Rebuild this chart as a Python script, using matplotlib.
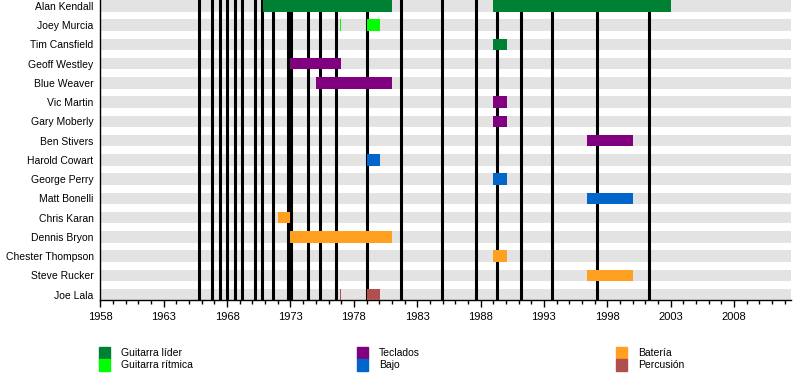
import matplotlib.pyplot as plt
from matplotlib.patches import Rectangle

plt.rcParams['font.family'] = ['Liberation Sans', 'DejaVu Sans']

# Members, top to bottom
members = ['Alan Kendall', 'Joey Murcia', 'Tim Cansfield', 'Geoff Westley',
           'Blue Weaver', 'Vic Martin', 'Gary Moberly', 'Ben Stivers',
           'Harold Cowart', 'George Perry', 'Matt Bonelli', 'Chris Karan',
           'Dennis Bryon', 'Chester Thompson', 'Steve Rucker', 'Joe Lala']

# Membership periods: member, start, end, role
bar_member = ['Alan Kendall', 'Alan Kendall', 'Joey Murcia', 'Joey Murcia',
              'Tim Cansfield', 'Geoff Westley', 'Blue Weaver', 'Vic Martin',
              'Gary Moberly', 'Ben Stivers', 'Harold Cowart', 'George Perry',
              'Matt Bonelli', 'Chris Karan', 'Dennis Bryon', 'Chester Thompson',
              'Steve Rucker', 'Joe Lala', 'Joe Lala']
bar_start = [1970.85, 1989.0, 1976.88, 1979.0,
             1989.0, 1973.0, 1975.0, 1989.0,
             1989.0, 1996.4, 1979.0, 1989.0,
             1996.4, 1972.0, 1973.0, 1989.0,
             1996.4, 1976.88, 1979.0]
bar_end = [1981.0, 2003.0, 1976.96, 1980.08,
           1990.08, 1977.0, 1981.0, 1990.08,
           1990.08, 2000.0, 1980.08, 1990.08,
           2000.0, 1973.0, 1981.0, 1990.08,
           2000.0, 1976.96, 1980.08]
bar_role = ['lead', 'lead', 'rhythm', 'rhythm',
            'lead', 'keys', 'keys', 'keys',
            'keys', 'keys', 'bass', 'bass',
            'bass', 'drums', 'drums', 'drums',
            'drums', 'perc', 'perc']

# Album release dates (vertical lines)
albums = [1965.80, 1966.82, 1967.43, 1968.01, 1968.62, 1969.19, 1970.22,
          1970.77, 1971.64, 1972.78, 1973.01, 1974.40, 1975.35, 1976.59,
          1979.03, 1981.72, 1984.98, 1987.66, 1989.32, 1991.19, 1993.66,
          1997.21, 2001.31]

roles = ['lead', 'rhythm', 'keys', 'bass', 'drums', 'perc']
role_labels = ['Guitarra líder', 'Guitarra rítmica', 'Teclados', 'Bajo',
               'Batería', 'Percusión']
role_colors = {'lead': '#008033', 'rhythm': '#00ff00', 'keys': '#800080',
               'bass': '#0066cc', 'drums': '#ffa020', 'perc': '#b04f4f'}

x_min, x_max = 1958, 2012.5

fig = plt.figure(figsize=(8, 3.9), dpi=100)
ax = fig.add_axes([0.1256, 0.2308, 0.863, 0.7692])

rows = list(range(len(members)))
# gray background bands
ax.barh(rows, x_max - x_min, left=x_min, height=0.6, color='#e3e3e3', zorder=1)

# album lines
for a in albums:
    ax.axvline(a, color='black', lw=2.2, zorder=2)

# membership bars
for m, s, e, r in zip(bar_member, bar_start, bar_end, bar_role):
    ax.barh(members.index(m), e - s, left=s, height=0.6,
            color=role_colors[r], zorder=3)

ax.set_xlim(x_min, x_max)
ax.set_ylim(15.28, -0.3)
ax.set_yticks(rows)
ax.set_yticklabels(members, fontsize=7.5)
ax.tick_params(axis='y', length=0, pad=5)
ax.set_xticks(range(1958, 2013, 5))
ax.set_xticks(range(1958, 2013), minor=True)
ax.tick_params(axis='x', which='major', length=5, width=1, labelsize=8, pad=4)
ax.tick_params(axis='x', which='minor', length=3, width=1)
for side in ['top', 'right']:
    ax.spines[side].set_visible(False)
ax.spines['left'].set_linewidth(1)
ax.spines['bottom'].set_linewidth(1)
ax.set_facecolor('white')

# legend: three columns of two entries
col_x = [99, 357, 616]
row_y = [353, 365]
for i, (r, lab) in enumerate(zip(roles, role_labels)):
    cx = col_x[i // 2]
    cy = row_y[i % 2]
    fig.patches.append(Rectangle((cx / 800, 1 - (cy + 6) / 390), 11 / 800, 12 / 390,
                                 transform=fig.transFigure, color=role_colors[r]))
    fig.text((cx + 22) / 800, 1 - cy / 390, lab, fontsize=7.5, va='center',
             family=['Liberation Sans Narrow', 'Liberation Sans', 'DejaVu Sans'])

fig.savefig('out.png', dpi=100)
